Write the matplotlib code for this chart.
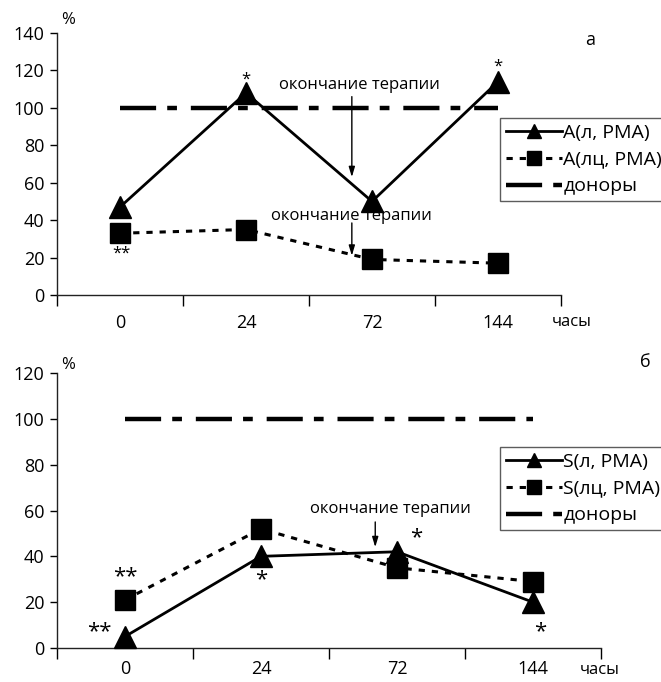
import matplotlib
matplotlib.use("Agg")
import matplotlib.pyplot as plt

plt.rcParams['font.family'] = ['Open Sans', 'DejaVu Sans']
plt.rcParams['lines.scale_dashes'] = False

categories = ['0', '24', '72', '144']
a_l = [47, 108, 50, 114]
a_lc = [33, 35, 19, 17]
s_l = [5, 40, 42, 20]
s_lc = [21, 52, 35, 29]
donors = [100, 100, 100, 100]

labels_a = ['А(л, РМА)', 'А(лц, РМА)', 'доноры']
labels_s = ['S(л, РМА)', 'S(лц, РМА)', 'доноры']
note = 'окончание терапии'

W, H = 661, 682
fig = plt.figure(figsize=(W / 100, H / 100), dpi=100)

dash_dot = (0, (26, 8, 7, 10))
dotted = (0, (4.5, 5))

def setup(ax, ymax, ystep, xpad):
    x = range(len(categories))
    ax.set_xlim(-0.5, len(categories) - 0.5)
    ax.set_ylim(0, ymax)
    ax.set_yticks(range(0, ymax + 1, ystep))
    ax.set_xticks([i - 0.5 for i in range(len(categories) + 1)])
    ax.set_xticklabels([])
    ax.set_xticks(list(x), minor=True)
    ax.set_xticklabels(categories, minor=True)
    ax.tick_params(axis='x', which='major', length=8, width=1, direction='out')
    ax.tick_params(axis='x', which='minor', length=0, pad=xpad, labelsize=13)
    ax.tick_params(axis='y', length=5, width=1, direction='out', labelsize=13, pad=4)
    for s in ['top', 'right']:
        ax.spines[s].set_visible(False)
    for s in ['left', 'bottom']:
        ax.spines[s].set_linewidth(1)
        ax.spines[s].set_color('#222222')

def plot_series(ax, lvals, lcvals, labels):
    x = list(range(len(categories)))
    h1, = ax.plot(x, lvals, color='black', lw=2.0, marker='^', markersize=16,
                  label=labels[0], clip_on=False, zorder=4)
    h2, = ax.plot(x, lcvals, color='black', lw=2.2, linestyle=dotted, marker='s',
                  markersize=15, label=labels[1], clip_on=False, zorder=3)
    h3, = ax.plot([0, 3], donors[:1] + donors[-1:], color='black', lw=3.2,
                  linestyle=dash_dot, label=labels[2], zorder=2)
    return [h1, h2, h3]

def make_legend(handles, top):
    leg = fig.legend(handles=handles, loc='upper left', bbox_to_anchor=(500 / W, 1 - top / H),
                     fontsize=14, frameon=True, fancybox=False, handlelength=2.9,
                     handletextpad=0.05, borderpad=0.3, labelspacing=0.45, borderaxespad=0,
                     markerscale=0.65)
    leg.get_frame().set_edgecolor('#333333')
    leg.get_frame().set_linewidth(1.0)
    return leg

arrow_kw = dict(arrowstyle='-|>,head_width=0.18,head_length=0.6', color='black', lw=1.0,
                shrinkA=0, shrinkB=0)

# ---- top panel (a)
ax1 = fig.add_axes([57 / W, 1 - 295 / H, (561 - 57) / W, (295 - 33) / H])
setup(ax1, 140, 20, 14)
hs = plot_series(ax1, a_l, a_lc, labels_a)
ax1.annotate('', xy=(1.84, 63), xytext=(1.84, 106), arrowprops=arrow_kw)
ax1.text(1.9, 112, note, ha='center', va='center', fontsize=12)
ax1.annotate('', xy=(1.84, 21), xytext=(1.84, 38.5), arrowprops=arrow_kw)
ax1.text(1.84, 42, note, ha='center', va='center', fontsize=12)
ax1.text(1, 115, '*', ha='center', va='center', fontsize=12)
ax1.text(3, 122, '*', ha='center', va='center', fontsize=12)
ax1.text(0.01, 22, '**', ha='center', va='center', fontsize=12)
fig.text(68 / W, 1 - 20 / H, '%', ha='center', va='center', fontsize=12)
fig.text(590 / W, 1 - 40 / H, 'а', ha='center', va='center', fontsize=13)
fig.text(572 / W, 1 - 322 / H, 'часы', ha='center', va='center', fontsize=12)
make_legend(hs, 118)

# ---- bottom panel (б)
ax2 = fig.add_axes([57 / W, 1 - 648 / H, (601 - 57) / W, (648 - 373) / H])
setup(ax2, 120, 20, 9)
hs2 = plot_series(ax2, s_l, s_lc, labels_s)
ax2.annotate('', xy=(1.84, 44), xytext=(1.84, 55), arrowprops=arrow_kw)
ax2.text(1.95, 57, note, ha='center', va='bottom', fontsize=12)
ax2.text(-0.19, 7, '**', ha='center', va='center', fontsize=16)
ax2.text(0.0, 31, '**', ha='center', va='center', fontsize=16)
ax2.text(1.0, 30, '*', ha='center', va='center', fontsize=16)
ax2.text(2.14, 48, '*', ha='center', va='center', fontsize=16)
ax2.text(3.05, 7, '*', ha='center', va='center', fontsize=16)
fig.text(68 / W, 1 - 365 / H, '%', ha='center', va='center', fontsize=12)
fig.text(645 / W, 1 - 362 / H, 'б', ha='center', va='center', fontsize=13)
fig.text(600 / W, 1 - 670 / H, 'часы', ha='center', va='center', fontsize=12)
make_legend(hs2, 447)

fig.savefig('out.png', dpi=100)
